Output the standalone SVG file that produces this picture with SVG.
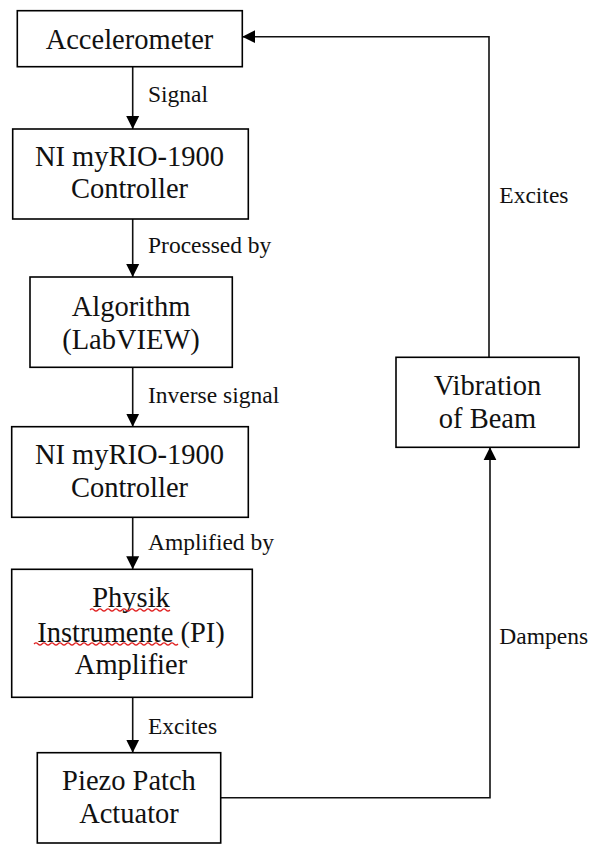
<svg xmlns="http://www.w3.org/2000/svg" width="592" height="844" viewBox="0 0 592 844">
<style>
.box{fill:#fff;stroke:#000;stroke-width:1.6}
.t{font-family:"Liberation Serif","Times New Roman",serif;font-size:28.5px;fill:#111;text-anchor:middle}
.lbl{font-family:"Liberation Serif","Times New Roman",serif;font-size:23.5px;fill:#111}
.c{fill:none;stroke:#111;stroke-width:1.6}
.sq{fill:none;stroke:#e02020;stroke-width:1.2}
</style>
<defs>
<marker id="ah" markerUnits="userSpaceOnUse" markerWidth="14" markerHeight="14" viewBox="0 0 14 14" refX="13" refY="7" orient="auto">
<path d="M0,0.5 L13,7 L0,13.5 Z" fill="#000"/>
</marker>
</defs>
<rect width="592" height="844" fill="#fff"/>
<g id="connectors">
<line class="c" x1="132.7" y1="66.7" x2="132.7" y2="129" marker-end="url(#ah)"/>
<line class="c" x1="132.7" y1="219" x2="132.7" y2="277" marker-end="url(#ah)"/>
<line class="c" x1="132.7" y1="367.3" x2="132.7" y2="426.7" marker-end="url(#ah)"/>
<line class="c" x1="132.7" y1="517.3" x2="132.7" y2="569.3" marker-end="url(#ah)"/>
<line class="c" x1="132.7" y1="697.3" x2="132.7" y2="752.7" marker-end="url(#ah)"/>
<polyline class="c" points="220.7,797.7 490,797.7 490,447.3" marker-end="url(#ah)"/>
<polyline class="c" points="489,357.3 489,36.7 242.3,36.7" marker-end="url(#ah)"/>
<text class="lbl" x="148" y="102">Signal</text>
<text class="lbl" x="148" y="253">Processed by</text>
<text class="lbl" x="148" y="403">Inverse signal</text>
<text class="lbl" x="148" y="550">Amplified by</text>
<text class="lbl" x="148" y="734">Excites</text>
<text class="lbl" x="499.3" y="203">Excites</text>
<text class="lbl" x="499.3" y="644">Dampens</text>
</g>
<g id="accelerometer">
<rect class="box" x="17.3" y="10.7" width="225" height="56"/>
<text class="t" x="129.5" y="48.5">Accelerometer</text>
</g>
<g id="controller1">
<rect class="box" x="12.7" y="129" width="235.6" height="90"/>
<text class="t" x="129.5" y="165.7">NI myRIO-1900</text>
<text class="t" x="129.5" y="198.3">Controller</text>
</g>
<g id="algorithm">
<rect class="box" x="30" y="277" width="202.3" height="90.3"/>
<text class="t" x="131" y="316">Algorithm</text>
<text class="t" x="131" y="349">(LabVIEW)</text>
</g>
<g id="controller2">
<rect class="box" x="11.7" y="426.7" width="236.6" height="90.6"/>
<text class="t" x="129.5" y="464">NI myRIO-1900</text>
<text class="t" x="129.5" y="497">Controller</text>
</g>
<g id="amplifier">
<rect class="box" x="11.7" y="569.3" width="240.6" height="128"/>
<text class="t" x="131" y="606.7">Physik</text>
<text class="t" x="131" y="641.7">Instrumente (PI)</text>
<text class="t" x="131" y="674.3">Amplifier</text>
<path class="sq" d="M90,610 q2,-2 4,0 t4,0 t4,0 t4,0 t4,0 t4,0 t4,0 t4,0 t4,0 t4,0 t4,0 t4,0 t4,0 t4,0 t4,0 t4,0 t4,0 t4,0 t4,0 t4,0"/>
<path class="sq" d="M34,644 q2,-2 4,0 t4,0 t4,0 t4,0 t4,0 t4,0 t4,0 t4,0 t4,0 t4,0 t4,0 t4,0 t4,0 t4,0 t4,0 t4,0 t4,0 t4,0 t4,0 t4,0 t4,0 t4,0 t4,0 t4,0 t4,0 t4,0 t4,0 t4,0 t4,0 t4,0 t4,0 t4,0 t4,0 t4,0 t4,0 t4,0"/>
</g>
<g id="piezo">
<rect class="box" x="37.3" y="752.7" width="183.4" height="90.3"/>
<text class="t" x="129" y="790">Piezo Patch</text>
<text class="t" x="129" y="823">Actuator</text>
</g>
<g id="vibration">
<rect class="box" x="396" y="357.3" width="183" height="90"/>
<text class="t" x="487.5" y="395">Vibration</text>
<text class="t" x="487.5" y="427.7">of Beam</text>
</g>
</svg>
